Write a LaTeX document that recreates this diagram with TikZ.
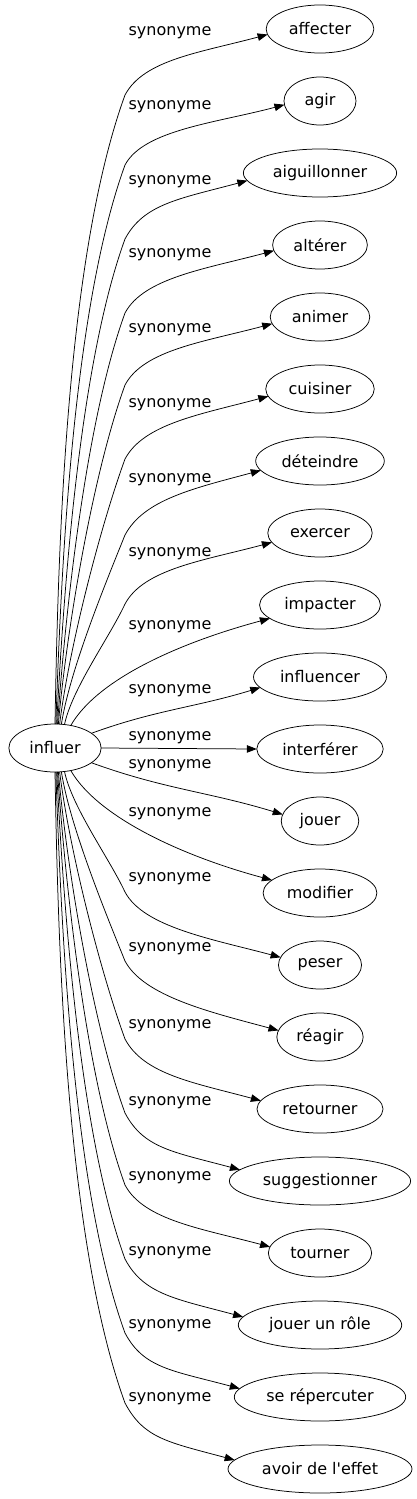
\documentclass[tikz,border=0pt]{standalone}
\usepackage{fontspec}
\setmainfont{DejaVu Sans}[Ligatures=TeXOff]
\usetikzlibrary{arrows.meta,positioning,shapes.geometric}
\tikzset{
  wrd/.style={draw,ellipse,line width=0.75pt,outer sep=0pt,minimum width=72pt,minimum height=48pt,inner xsep=7pt,inner ysep=0pt,font=\fontsize{16pt}{18pt}\selectfont},
  arr/.style={-{Triangle[length=10pt,width=7.5pt]},line width=0.75pt},
  up/.style={out=62,in=195,out distance=40pt,in distance=70pt},
  dn/.style={out=-62,in=165,out distance=40pt,in distance=70pt},
  lbl/.style={font=\fontsize{16pt}{18pt}\selectfont,inner sep=0pt}
}

\begin{document}
\begin{tikzpicture}[x=1pt,y=1pt,node distance=24pt]
  \useasboundingbox (0,0) rectangle (416,-1499);

  \node[wrd] (influer) at (55,-748) {influer};

  \node[wrd] (affecter) at (320,-29) {affecter};
  \node[wrd, below=of affecter] (agir) {agir};
  \node[wrd, below=of agir] (aiguillonner) {aiguillonner};
  \node[wrd, below=of aiguillonner] (alterer) {altérer};
  \node[wrd, below=of alterer] (animer) {animer};
  \node[wrd, below=of animer] (cuisiner) {cuisiner};
  \node[wrd, below=of cuisiner] (deteindre) {déteindre};
  \node[wrd, below=of deteindre] (exercer) {exercer};
  \node[wrd, below=of exercer] (impacter) {impacter};
  \node[wrd, below=of impacter] (influencer) {influencer};
  \node[wrd, below=of influencer] (interferer) {interférer};
  \node[wrd, below=of interferer] (jouer) {jouer};
  \node[wrd, below=of jouer] (modifier) {modifier};
  \node[wrd, below=of modifier] (peser) {peser};
  \node[wrd, below=of peser] (reagir) {réagir};
  \node[wrd, below=of reagir] (retourner) {retourner};
  \node[wrd, below=of retourner] (suggestionner) {suggestionner};
  \node[wrd, below=of suggestionner] (tourner) {tourner};
  \node[wrd, below=of tourner] (role) {jouer un rôle};
  \node[wrd, below=of role] (repercuter) {se répercuter};
  \node[wrd, below=of repercuter] (effet) {avoir de l'effet};

  % edge labels
  \node[lbl] (l1) at (170,-33) {synonyme};
  \node[lbl] (l2) at (170,-107) {synonyme};
  \node[lbl] (l3) at (170,-182) {synonyme};
  \node[lbl] (l4) at (170,-255) {synonyme};
  \node[lbl] (l5) at (170,-330) {synonyme};
  \node[lbl] (l6) at (170,-405) {synonyme};
  \node[lbl] (l7) at (170,-480) {synonyme};
  \node[lbl] (l8) at (170,-554) {synonyme};
  \node[lbl] (l9) at (170,-627) {synonyme};
  \node[lbl] (l10) at (170,-691) {synonyme};
  \node[lbl] (l11) at (170,-738) {synonyme};
  \node[lbl] (l12) at (170,-766) {synonyme};
  \node[lbl] (l13) at (170,-814) {synonyme};
  \node[lbl] (l14) at (170,-879) {synonyme};
  \node[lbl] (l15) at (170,-949) {synonyme};
  \node[lbl] (l16) at (170,-1026) {synonyme};
  \node[lbl] (l17) at (170,-1103) {synonyme};
  \node[lbl] (l18) at (170,-1178) {synonyme};
  \node[lbl] (l19) at (170,-1253) {synonyme};
  \node[lbl] (l20) at (170,-1326) {synonyme};
  \node[lbl] (l21) at (170,-1399) {synonyme};

  % upper fan
  \draw[arr] (influer.90) to[out=89,in=250,looseness=0.7] (125,-95) to[up] (affecter.186);
  \draw[arr] (influer.88) to[out=88,in=250,looseness=0.7] (125,-165) to[up] (agir.186);
  \draw[arr] (influer.86) to[out=87,in=250,looseness=0.7] (125,-239) to[up] (aiguillonner.186);
  \draw[arr] (influer.84) to[out=86,in=250,looseness=0.7] (125,-313) to[up] (alterer.187);
  \draw[arr] (influer.82) to[out=85,in=250,looseness=0.7] (125,-385) to[up] (animer.188);
  \draw[arr] (influer.79) to[out=83,in=250,looseness=0.7] (125,-459) to[up] (cuisiner.188);
  \draw[arr] (influer.75) to[out=81,in=248,looseness=0.7] (125,-535) to[up] (deteindre.189);
  \draw[arr] (influer.68) to[out=78,in=245,looseness=0.7] (125,-604) to[up] (exercer.191);
  \draw[arr] (influer.55) to[out=60,in=195,out distance=55pt,in distance=90pt] (impacter.195);
  \draw[arr] (influer.22) to[out=20,in=197] (influencer.190);
  \draw[arr] (influer.east) -- (interferer.west);
  % lower fan
  \draw[arr] (influer.-22) to[out=-20,in=163] (jouer.170);
  \draw[arr] (influer.-55) to[out=-60,in=165,out distance=55pt,in distance=90pt] (modifier.165);
  \draw[arr] (influer.-68) to[out=-78,in=115,looseness=0.7] (125,-892) to[dn] (peser.169);
  \draw[arr] (influer.-75) to[out=-81,in=112,looseness=0.7] (125,-961) to[dn] (reagir.171);
  \draw[arr] (influer.-79) to[out=-83,in=110,looseness=0.7] (125,-1039) to[dn] (retourner.172);
  \draw[arr] (influer.-82) to[out=-85,in=110,looseness=0.7] (125,-1113) to[dn] (suggestionner.172);
  \draw[arr] (influer.-84) to[out=-86,in=110,looseness=0.7] (125,-1185) to[dn] (tourner.173);
  \draw[arr] (influer.-86) to[out=-87,in=110,looseness=0.7] (125,-1259) to[dn] (role.174);
  \draw[arr] (influer.-88) to[out=-88,in=110,looseness=0.7] (125,-1333) to[dn] (repercuter.174);
  \draw[arr] (influer.-90) to[out=-89,in=110,looseness=0.7] (125,-1403) to[dn] (effet.174);
\end{tikzpicture}
\end{document}
